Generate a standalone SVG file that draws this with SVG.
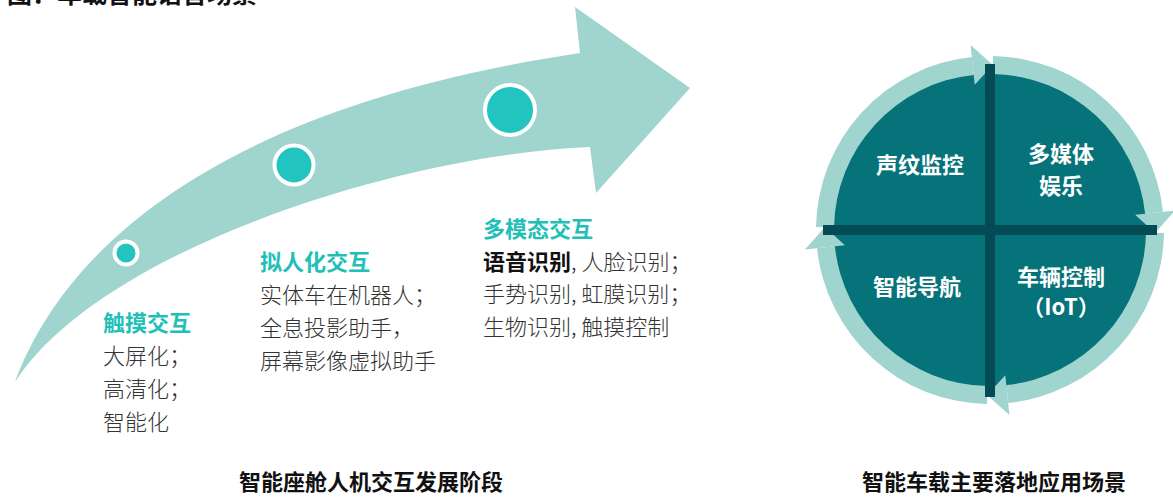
<svg xmlns="http://www.w3.org/2000/svg" xmlns:xlink="http://www.w3.org/1999/xlink" width="1173" height="497" viewBox="0 0 1173 497">
<style>
text{font-family:"Noto Sans CJK SC","Liberation Sans",sans-serif;}
.title{font-size:25px;font-weight:700;fill:#111;}
.head{font-size:22px;font-weight:700;fill:#22bfb9;}
.body{font-size:22px;font-weight:300;fill:#333;}
.bold{font-weight:700;fill:#111;}
.cap{font-size:22px;font-weight:700;fill:#111;text-anchor:middle;}
.quad{font-size:22px;font-weight:700;fill:#fff;text-anchor:middle;}
.band{fill:#9fd4cf;}
.dot{fill:#21c4bf;stroke:#fff;stroke-width:4;}
.ring{fill:#9fd4cf;}
.bar{fill:#054b55;}
</style>
<defs>
<g id="ringSeg">
<path class="ring" d="M816,227 A174 174 0 0 1 971.8,57 L973.7,74.9 A156 156 0 0 0 834,227.3 Z"/>
<polygon class="ring" points="970.6,45 992.9,65 974.7,84.8"/>
</g>
</defs>
<rect width="1173" height="497" fill="#fff"/>
<text class="title" x="7" y="2.5">图：车载智能语音场景</text>

<g id="evolution-arrow">
<path class="band" d="M15,382 C60,260 200,110 580,53 L575,7 L690,88 L596,193 L590,147 C400,155 100,250 15,382 Z"/>
</g>
<g id="stage-touch">
<circle class="dot" cx="126" cy="253" r="11.5"/>
<text class="head" x="103" y="331">触摸交互</text>
<text class="body" x="103" y="364">大屏化；</text>
<text class="body" x="103" y="397">高清化；</text>
<text class="body" x="103" y="430">智能化</text>
</g>
<g id="stage-anthropomorphic">
<circle class="dot" cx="294" cy="165" r="19.5"/>
<text class="head" x="260" y="270">拟人化交互</text>
<text class="body" x="260" y="303">实体车在机器人；</text>
<text class="body" x="260" y="336">全息投影助手，</text>
<text class="body" x="260" y="369">屏幕影像虚拟助手</text>
</g>
<g id="stage-multimodal">
<circle class="dot" cx="510" cy="110" r="25"/>
<text class="head" x="483" y="237">多模态交互</text>
<text class="body" x="483" y="270"><tspan class="bold">语音识别</tspan>, 人脸识别；</text>
<text class="body" x="483" y="302">手势识别, 虹膜识别；</text>
<text class="body" x="483" y="335">生物识别, 触摸控制</text>
</g>
<text class="cap" x="371" y="490">智能座舱人机交互发展阶段</text>

<g id="scenario-wheel">
<circle cx="990" cy="230" r="157" fill="#06737a"/>
</g>
<g id="connectors">
<use xlink:href="#ringSeg"/>
<use xlink:href="#ringSeg" transform="rotate(90 990 230)"/>
<use xlink:href="#ringSeg" transform="rotate(180 990 230)"/>
<use xlink:href="#ringSeg" transform="rotate(270 990 230)"/>
</g>
<g id="cross">
<rect class="bar" x="823" y="225" width="334" height="10"/>
<rect class="bar" x="985" y="64" width="10" height="333"/>
</g>
<g id="q-voiceprint"><text class="quad" x="920" y="173">声纹监控</text></g>
<g id="q-media"><text class="quad" x="1061" y="162">多媒体</text><text class="quad" x="1061" y="194">娱乐</text></g>
<g id="q-navigation"><text class="quad" x="917" y="295">智能导航</text></g>
<g id="q-vehicle"><text class="quad" x="1061" y="285">车辆控制</text><text class="quad" x="1061" y="315">（IoT）</text></g>
<text class="cap" x="994" y="490">智能车载主要落地应用场景</text>
</svg>
